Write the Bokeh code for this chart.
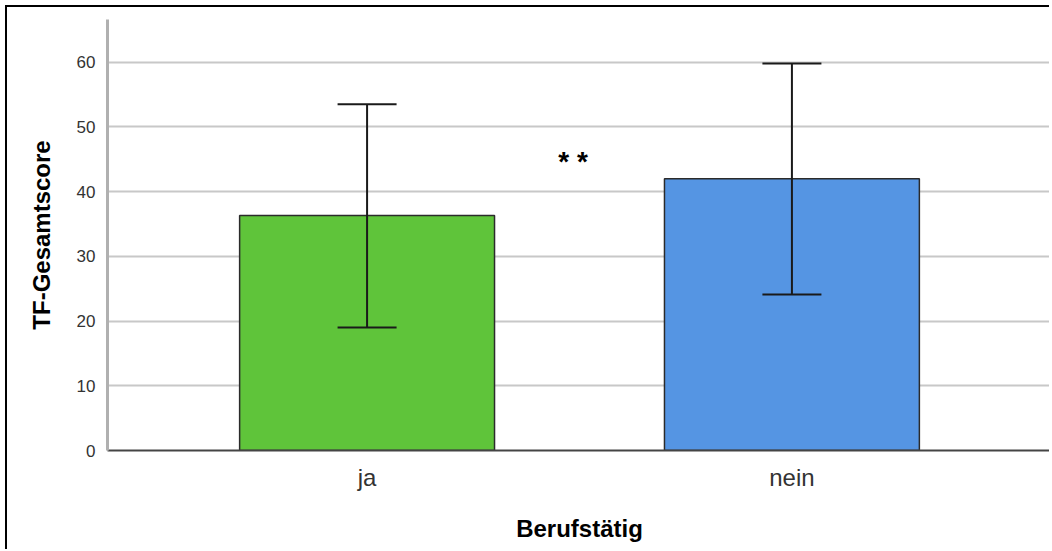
from bokeh.plotting import figure
from bokeh.models import Range1d, FixedTicker, Whisker, ColumnDataSource, Label
from bokeh.embed import file_html
from bokeh.resources import INLINE

categories = ["ja", "nein"]
means = [36.3, 42.0]
upper = [53.5, 59.8]
lower = [19.0, 24.1]
colors = ["#5fc43a", "#5595e3"]
y_ticks = [0, 10, 20, 30, 40, 50, 60]
significance = "* *"

xs = [i + 1 for i in range(len(categories))]
src = ColumnDataSource(dict(x=xs, top=means, upper=upper, lower=lower, color=colors))

p = figure(width=1044, height=544, output_backend="svg", toolbar_location=None,
           x_range=Range1d(0.389, 2.611), y_range=Range1d(0, 66.6),
           min_border_left=100, min_border_right=0, min_border_top=12, min_border_bottom=101)
p.outline_line_color = None
p.styles = {"border-left": "2px solid black", "border-top": "2px solid black",
            "margin-left": "5px", "margin-top": "5px"}

p.vbar(x="x", top="top", bottom=0, width=0.6, fill_color="color",
       line_color="#2b2b2b", line_width=1.5, source=src)

w = Whisker(base="x", upper="upper", lower="lower", source=src, dimension="height",
            line_color="#1a1a1a", line_width=2, level="overlay")
w.upper_head.size = 59
w.lower_head.size = 59
w.upper_head.line_color = "#1a1a1a"
w.lower_head.line_color = "#1a1a1a"
w.upper_head.line_width = 2
w.lower_head.line_width = 2
p.add_layout(w)

p.add_layout(Label(x=1.485, y=44.7, text=significance, text_align="center", text_baseline="middle",
                   text_font="Liberation Sans", text_font_size="28px", text_font_style="bold",
                   text_color="#000000"))

# axes
p.xaxis.ticker = FixedTicker(ticks=xs)
p.xaxis.major_label_overrides = {x: c for x, c in zip(xs, categories)}
p.xaxis.major_tick_line_color = None
p.xaxis.minor_tick_line_color = None
p.xaxis.axis_line_color = "#444444"
p.xaxis.axis_line_width = 2
p.xaxis.major_label_text_font = "Liberation Sans"
p.xaxis.major_label_text_font_size = "24px"
p.xaxis.major_label_text_color = "#333333"
p.xaxis.major_label_standoff = 7
p.xaxis.axis_label = "Berufstätig"
p.xaxis.axis_label_text_font = "Liberation Sans"
p.xaxis.axis_label_text_font_style = "bold"
p.xaxis.axis_label_text_font_size = "24px"
p.xaxis.axis_label_text_color = "#000000"
p.xaxis.axis_label_standoff = 21

p.yaxis.ticker = FixedTicker(ticks=y_ticks)
p.yaxis.major_tick_line_color = None
p.yaxis.minor_tick_line_color = None
p.yaxis.axis_line_color = "#b0b0b0"
p.yaxis.axis_line_width = 3
p.yaxis.major_label_text_font = "Liberation Sans"
p.yaxis.major_label_text_font_size = "17px"
p.yaxis.major_label_text_color = "#333333"
p.yaxis.major_label_standoff = 6
p.yaxis.axis_label = "TF-Gesamtscore"
p.yaxis.axis_label_text_font = "Liberation Sans"
p.yaxis.axis_label_text_font_style = "bold"
p.yaxis.axis_label_text_font_size = "24px"
p.yaxis.axis_label_text_color = "#000000"
p.yaxis.axis_label_standoff = 19

p.xgrid.grid_line_color = None
p.ygrid.grid_line_color = "#c8c8c8"
p.ygrid.grid_line_width = 2

open("out.html", "w").write(file_html(p, INLINE))
